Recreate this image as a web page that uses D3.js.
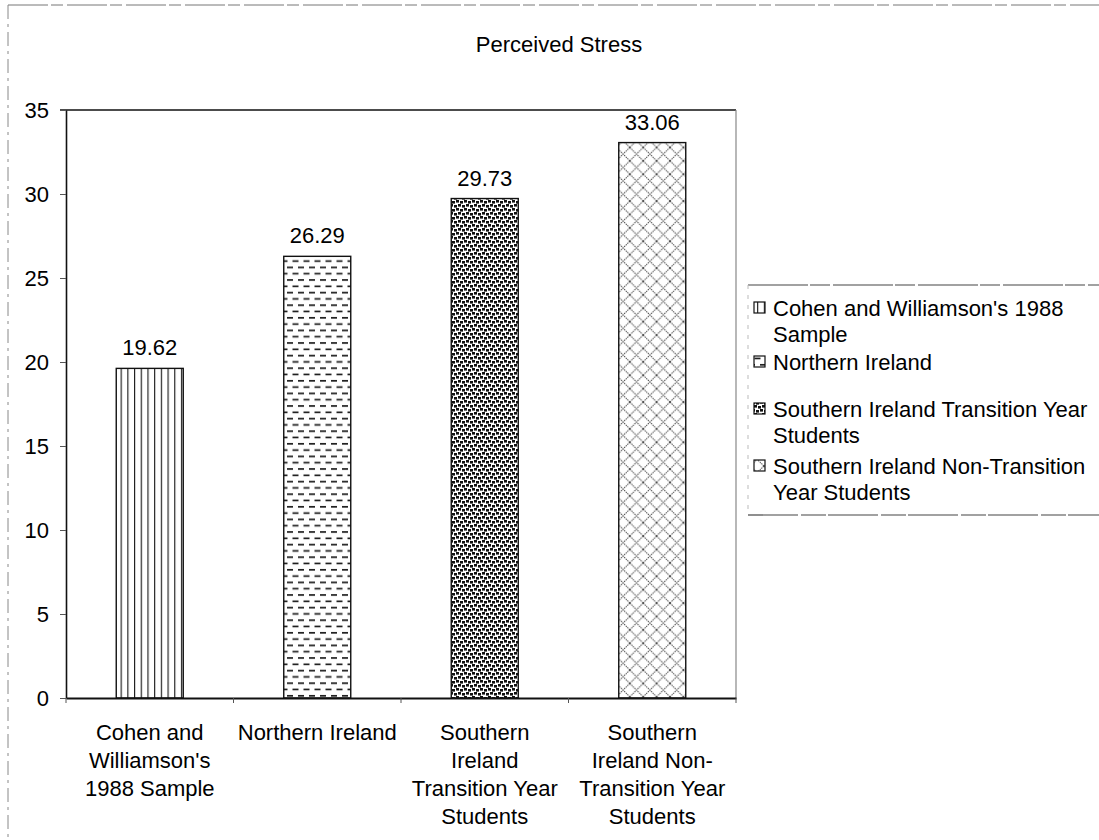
<!DOCTYPE html>
<html>
<head>
<meta charset="utf-8">
<script src="https://cdn.jsdelivr.net/npm/d3@7"></script>
<style>
  html, body { margin: 0; padding: 0; background: #fff; }
  svg { display: block; font-family: "Liberation Sans", Arial, Helvetica, sans-serif; }
</style>
</head>
<body>
<svg id="chart" width="1099" height="840"></svg>
<script>
// ---- data ----
const chartTitle = "Perceived Stress";
const categories = [
  ["Cohen and", "Williamson's", "1988 Sample"],
  ["Northern Ireland"],
  ["Southern", "Ireland", "Transition Year", "Students"],
  ["Southern", "Ireland Non-", "Transition Year", "Students"]
];
const values = [19.62, 26.29, 29.73, 33.06];
const valueLabels = ["19.62", "26.29", "29.73", "33.06"];
const yTicks = [0, 5, 10, 15, 20, 25, 30, 35];
const legendLabels = [
  ["Cohen and Williamson's 1988", "Sample"],
  ["Northern Ireland"],
  ["Southern Ireland Transition Year", "Students"],
  ["Southern Ireland Non-Transition", "Year Students"]
];
const patternIds = ["pVert", "pDash", "pDots", "pDiamond"];

// ---- layout ----
const FS = 22;
const svg = d3.select("#chart");
const plot = { left: 66, right: 736, top: 110, bottom: 698 };
const keys = categories.map(c => c.join(" "));

const x = d3.scaleBand().domain(keys).range([plot.left, plot.right]).paddingInner(0.6).paddingOuter(0.3);
const y = d3.scaleLinear().domain([0, 35]).range([plot.bottom, plot.top]);

// ---- patterns ----
const defs = svg.append("defs");
// vertical lines
const p1 = defs.append("pattern").attr("id", "pVert").attr("patternUnits", "userSpaceOnUse")
  .attr("width", 6.7).attr("height", 10);
p1.append("rect").attr("width", 6.7).attr("height", 10).attr("fill", "#fff");
p1.append("line").attr("x1", 0.6).attr("x2", 0.6).attr("y1", 0).attr("y2", 10)
  .attr("stroke", "#111").attr("stroke-width", 1.1);

// dashed horizontal
const p2 = defs.append("pattern").attr("id", "pDash").attr("patternUnits", "userSpaceOnUse")
  .attr("width", 11).attr("height", 12.6);
p2.append("rect").attr("width", 11).attr("height", 12.6).attr("fill", "#fff");
p2.append("rect").attr("x", 1).attr("y", 2).attr("width", 6).attr("height", 1.6).attr("fill", "#111");
p2.append("rect").attr("x", 6.5).attr("y", 8.3).attr("width", 4.5).attr("height", 1.6).attr("fill", "#111");
p2.append("rect").attr("x", 0).attr("y", 8.3).attr("width", 1.5).attr("height", 1.6).attr("fill", "#111");

// dense dots / confetti
const p3 = defs.append("pattern").attr("id", "pDots").attr("patternUnits", "userSpaceOnUse")
  .attr("width", 8).attr("height", 8);
p3.append("rect").attr("width", 8).attr("height", 8).attr("fill", "#fff");
[[0,0,3,2.6],[4,1,3,2.6],[2,4,3,2.6],[6,5,2,2.6],[0,5,1,2.6]].forEach(r =>
  p3.append("rect").attr("x", r[0]).attr("y", r[1]).attr("width", r[2]).attr("height", r[3]).attr("fill", "#111"));

// diamond crosshatch
const p4 = defs.append("pattern").attr("id", "pDiamond").attr("patternUnits", "userSpaceOnUse")
  .attr("width", 13.4).attr("height", 13.4);
p4.append("rect").attr("width", 13.4).attr("height", 13.4).attr("fill", "#fff");
p4.append("path").attr("d", "M0,0L13.4,13.4M13.4,0L0,13.4")
  .attr("stroke", "#444").attr("stroke-width", 1).attr("stroke-dasharray", "1.4,0.8").attr("fill", "none");

// ---- outer border (scanned, broken look) ----
svg.append("line").attr("x1", 8).attr("x2", 1099).attr("y1", 5).attr("y2", 5)
  .attr("stroke", "#777").attr("stroke-width", 1).attr("stroke-dasharray", "40,3,12,4");
svg.append("line").attr("x1", 8).attr("x2", 8).attr("y1", 5).attr("y2", 840)
  .attr("stroke", "#888").attr("stroke-width", 1).attr("stroke-dasharray", "14,5,3,5");

// ---- title ----
svg.append("text").attr("x", 559).attr("y", 52).attr("text-anchor", "middle")
  .attr("font-size", FS).attr("fill", "#000").text(chartTitle);

// ---- plot frame ----
svg.append("line").attr("x1", 60).attr("x2", plot.right).attr("y1", plot.top).attr("y2", plot.top)
  .attr("stroke", "#111").attr("stroke-width", 1.6);
svg.append("line").attr("x1", plot.right).attr("x2", plot.right).attr("y1", plot.top).attr("y2", plot.bottom)
  .attr("stroke", "#888").attr("stroke-width", 1.2);

// ---- bars ----
svg.append("g").selectAll("rect").data(values).join("rect")
  .attr("x", (d, i) => x(keys[i]))
  .attr("y", d => y(d))
  .attr("width", x.bandwidth())
  .attr("height", d => y(0) - y(d))
  .attr("fill", (d, i) => `url(#${patternIds[i]})`)
  .attr("stroke", "#111").attr("stroke-width", 1.4);

// value labels
svg.append("g").selectAll("text").data(values).join("text")
  .attr("x", (d, i) => x(keys[i]) + x.bandwidth() / 2)
  .attr("y", d => y(d) - 13)
  .attr("text-anchor", "middle").attr("font-size", FS).attr("fill", "#000")
  .text((d, i) => valueLabels[i]);

// ---- y axis ----
const yAxis = svg.append("g").attr("transform", `translate(${plot.left},0)`)
  .call(d3.axisLeft(y).tickValues(yTicks).tickSizeInner(6).tickSizeOuter(0).tickPadding(11));
yAxis.select(".domain").attr("stroke", "#111").attr("stroke-width", 1.6);
yAxis.selectAll(".tick line").attr("stroke", "#555");
yAxis.selectAll(".tick text").attr("font-size", FS).attr("fill", "#000")
  .attr("font-family", "Liberation Sans, Arial, sans-serif");

// ---- x axis ----
const xAxis = svg.append("g").attr("transform", `translate(0,${plot.bottom})`)
  .call(d3.axisBottom(x).tickSize(0).tickFormat(""));
xAxis.select(".domain").attr("stroke", "#111").attr("stroke-width", 2);
// boundary ticks
svg.append("g").selectAll("line").data(d3.range(keys.length + 1)).join("line")
  .attr("x1", i => plot.left + i * (plot.right - plot.left) / keys.length)
  .attr("x2", i => plot.left + i * (plot.right - plot.left) / keys.length)
  .attr("y1", plot.bottom).attr("y2", plot.bottom + 5)
  .attr("stroke", "#555").attr("stroke-width", 1);

// category labels
const catG = svg.append("g").selectAll("text").data(categories).join("text")
  .attr("text-anchor", "middle").attr("font-size", FS).attr("fill", "#000")
  .attr("x", (d, i) => x(keys[i]) + x.bandwidth() / 2)
  .attr("y", 740);
catG.selectAll("tspan").data(d => d).join("tspan")
  .attr("x", function () { return d3.select(this.parentNode).attr("x"); })
  .attr("dy", (d, j) => j === 0 ? 0 : 28)
  .text(d => d);

// ---- legend ----
const legend = svg.append("g");
legend.append("line").attr("x1", 748).attr("x2", 1099).attr("y1", 285).attr("y2", 285)
  .attr("stroke", "#444").attr("stroke-width", 1.2).attr("stroke-dasharray", "60,2,20,3");
legend.append("line").attr("x1", 748).attr("x2", 1099).attr("y1", 515).attr("y2", 515)
  .attr("stroke", "#444").attr("stroke-width", 1.2).attr("stroke-dasharray", "50,3,25,2");
legend.append("line").attr("x1", 748).attr("x2", 748).attr("y1", 285).attr("y2", 515)
  .attr("stroke", "#bbb").attr("stroke-width", 1).attr("stroke-dasharray", "4,6");

const legendY = [308, 362, 409, 466];
const items = legend.selectAll("g.item").data(legendLabels).join("g").attr("class", "item")
  .attr("transform", (d, i) => `translate(0,${legendY[i]})`);
items.append("rect").attr("x", 754).attr("y", -6).attr("width", 11).attr("height", 11)
  .attr("fill", (d, i) => `url(#${patternIds[i]})`).attr("stroke", "#111").attr("stroke-width", 1.2);
const lt = items.append("text").attr("x", 773).attr("y", 8).attr("font-size", FS).attr("fill", "#000");
lt.selectAll("tspan").data(d => d).join("tspan")
  .attr("x", 773).attr("dy", (d, j) => j === 0 ? 0 : 26).text(d => d);
</script>
</body>
</html>
